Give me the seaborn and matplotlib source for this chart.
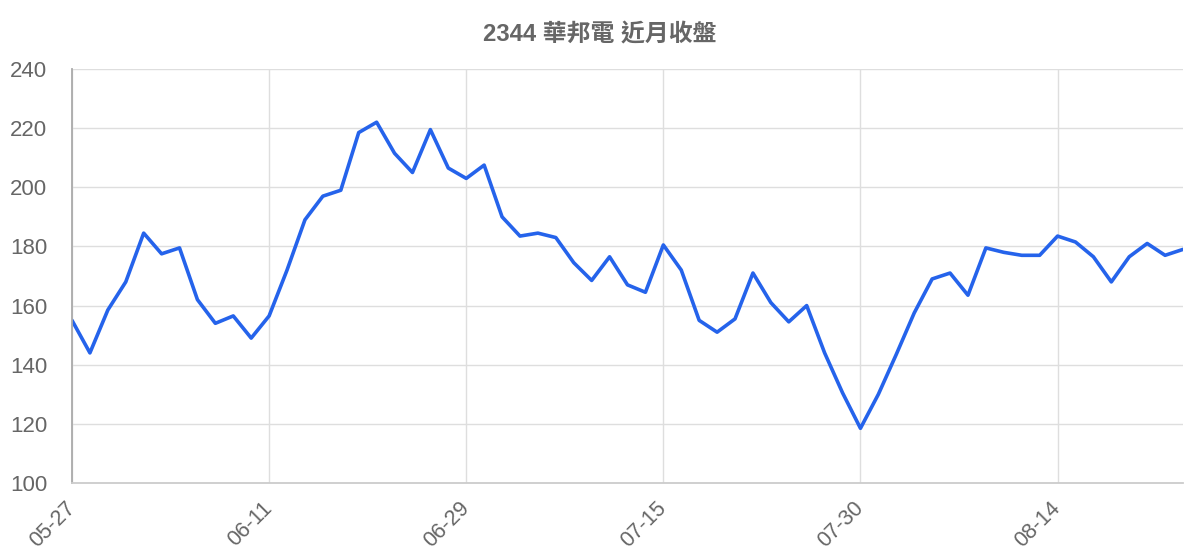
import matplotlib
matplotlib.use("Agg")
import matplotlib.pyplot as plt
import seaborn as sns
import pandas as pd

# Closing prices, 2344 Winbond, about one trading month+
dates = [
    "05-27", "05-28", "05-29", "06-01", "06-02", "06-03", "06-04", "06-05",
    "06-08", "06-09", "06-10", "06-11", "06-12", "06-15", "06-16", "06-17",
    "06-18", "06-19", "06-20", "06-22", "06-23", "06-24", "06-29", "06-30",
    "07-01", "07-02", "07-03", "07-06", "07-07", "07-08", "07-09", "07-10",
    "07-13", "07-15", "07-16", "07-17", "07-20", "07-21", "07-22", "07-23",
    "07-24", "07-27", "07-28", "07-29", "07-30", "07-31", "08-03", "08-04",
    "08-05", "08-06", "08-07", "08-10", "08-11", "08-12", "08-13", "08-14",
    "08-17", "08-18", "08-19", "08-20", "08-21", "08-24", "08-25",
]
close = [
    155.0, 144.0, 158.5, 168.0, 184.5, 177.5, 179.5, 162.0,
    154.0, 156.5, 149.0, 156.5, 172.0, 189.0, 197.0, 199.0,
    218.5, 222.0, 211.5, 205.0, 219.5, 206.5, 203.0, 207.5,
    190.0, 183.5, 184.5, 183.0, 174.5, 168.5, 176.5, 167.0,
    164.5, 180.5, 172.0, 155.0, 151.0, 155.5, 171.0, 161.0,
    154.5, 160.0, 144.0, 130.5, 118.5, 130.0, 143.5, 157.5,
    169.0, 171.0, 163.5, 179.5, 178.0, 177.0, 177.0, 183.5,
    181.5, 176.5, 168.0, 176.5, 181.0, 177.0, 179.0,
]
tick_step = 11
y_ticks = [100, 120, 140, 160, 180, 200, 220, 240]
title = "2344 華邦電 近月收盤"

df = pd.DataFrame({"i": range(len(close)), "close": close})

sns.set_theme(style="white")
plt.rcParams["font.family"] = ["Liberation Sans", "Noto Sans CJK TC", "DejaVu Sans"]

fig = plt.figure(figsize=(12, 5.6), dpi=100)
ax = fig.add_axes([72 / 1200, 1 - 483 / 560, (1183 - 72) / 1200, (483 - 69) / 560])

sns.lineplot(data=df, x="i", y="close", ax=ax, color="#2563eb", linewidth=2.6)

ax.set_xlim(0, len(close) - 1)
ax.set_ylim(100, 240)
xt = list(range(0, len(close), tick_step))
ax.set_xticks(xt)
ax.set_xticklabels([dates[i] for i in xt], rotation=45, ha="right", va="center",
                   rotation_mode="anchor")
ax.set_yticks(y_ticks)
ax.set_xlabel("")
ax.set_ylabel("")

ax.grid(True, color="#dedede", linewidth=1)
ax.set_axisbelow(True)
ax.tick_params(axis="y", length=17, width=1, color="#dedede", pad=1,
               labelsize=16, labelcolor="#666666")
ax.tick_params(axis="x", length=14, width=1, color="#dedede", pad=2,
               labelsize=15.5, labelcolor="#666666")

for s in ["top", "right"]:
    ax.spines[s].set_visible(False)
ax.spines["left"].set_color("#aaaaaa")
ax.spines["left"].set_linewidth(1.3)
ax.spines["bottom"].set_color("#cccccc")
ax.spines["bottom"].set_linewidth(1.3)

fig.text(0.5, 1 - 35 / 560, title, ha="center", va="center", fontsize=17.2,
         fontweight="bold", color="#666666")

fig.savefig("out.png", dpi=100)
